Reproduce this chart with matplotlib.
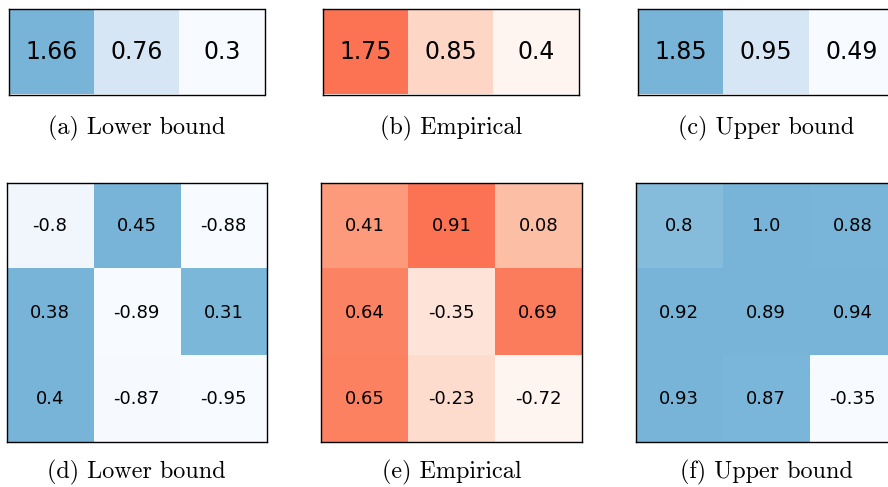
import numpy as np
import matplotlib
matplotlib.use("Agg")
import matplotlib.pyplot as plt
from matplotlib.colors import ListedColormap, Normalize

# data
top_lower = [1.66, 0.76, 0.3]
top_emp = [1.75, 0.85, 0.4]
top_upper = [1.85, 0.95, 0.49]

bot_lower = [[-0.8, 0.45, -0.88],
             [0.38, -0.89, 0.31],
             [0.4, -0.87, -0.95]]
bot_emp = [[0.41, 0.91, 0.08],
           [0.64, -0.35, 0.69],
           [0.65, -0.23, -0.72]]
bot_upper = [[0.8, 1.0, 0.88],
             [0.92, 0.89, 0.94],
             [0.93, 0.87, -0.35]]

captions_top = ["(a) Lower bound", "(b) Empirical", "(c) Upper bound"]
captions_bot = ["(d) Lower bound", "(e) Empirical", "(f) Upper bound"]

# light part of each colormap, both ends saturate a bit early
CMAX = 0.47
blues = ListedColormap(plt.cm.Blues(np.linspace(0, CMAX, 256)))
reds = ListedColormap(plt.cm.Reds(np.linspace(0, CMAX, 256)))

W, H = 888, 487
fig = plt.figure(figsize=(W / 100, H / 100), dpi=100)

# axes boxes in pixels: left, top, width, height
top_boxes = [(9, 9, 255.5, 85.5), (323.3, 9, 256, 85.5), (638.3, 9, 256, 85.5)]
bot_boxes = [(6.7, 182.7, 260, 259.6), (321, 182.7, 260.7, 259.6), (635.7, 182.7, 260.5, 259.6)]


def draw(data, cmap, box, caption, fs, cap_y):
    arr = np.atleast_2d(np.array(data, dtype=float))
    lo, hi = arr.min(), arr.max()
    norm = Normalize(vmin=lo + 0.04 * (hi - lo), vmax=lo + 0.92 * (hi - lo))
    l, t, w, h = box
    ax = fig.add_axes([l / W, 1 - (t + h) / H, w / W, h / H])
    ax.imshow(arr, cmap=cmap, norm=norm, aspect="auto", interpolation="nearest")
    for i in range(arr.shape[0]):
        for j in range(arr.shape[1]):
            ax.text(j, i, str(arr[i, j]), ha="center", va="center",
                    fontsize=fs, color="black")
    ax.set_xticks([])
    ax.set_yticks([])
    for s in ax.spines.values():
        s.set_linewidth(1.0)
        s.set_color("black")
    fig.text((l + w / 2) / W, 1 - cap_y / H, caption, ha="center", va="center",
             fontsize=17.4, family="cmr10")


cmaps = [blues, reds, blues]
for d, c, b, cap in zip([top_lower, top_emp, top_upper], cmaps, top_boxes, captions_top):
    draw(d, c, b, cap, 17, 128.5)
for d, c, b, cap in zip([bot_lower, bot_emp, bot_upper], cmaps, bot_boxes, captions_bot):
    draw(d, c, b, cap, 13, 472.5)

fig.savefig("out.png", dpi=100)
